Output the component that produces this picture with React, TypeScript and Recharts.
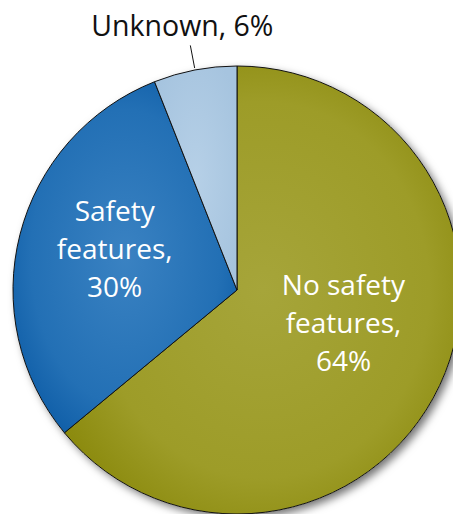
import { Cell, Pie, PieChart } from "recharts";

const CATEGORIES = ["No safety features", "Safety features", "Unknown"];
const SHARES = [64, 30, 6];

const data = CATEGORIES.map((name, i) => ({ name, value: SHARES[i] }));

const FILLS = ["url(#gOlive)", "url(#gBlue)", "url(#gLight)"];
// small nudges so the inside labels sit where the original puts them
const NUDGE = [
  { dx: -5, dy: -19 },
  { dx: -3, dy: -10 },
];

const RADIAN = Math.PI / 180;
const FONT = "'Open Sans', sans-serif";

function renderLabel(props: any) {
  const { cx, cy, midAngle, outerRadius, index, name, value } = props;
  const cos = Math.cos(-midAngle * RADIAN);
  const sin = Math.sin(-midAngle * RADIAN);

  if (index === 2) {
    const x1 = cx + (outerRadius + 2) * cos;
    const y1 = cy + (outerRadius + 2) * sin;
    const x2 = cx + (outerRadius + 25) * cos;
    const y2 = cy + (outerRadius + 25) * sin;
    return (
      <g>
        <line x1={x1} y1={y1} x2={x2} y2={y2} stroke="#111" strokeWidth={1} />
        <text
          x={x2 - 8}
          y={y2 - 9}
          textAnchor="middle"
          fill="#111"
          fontSize={28.5}
          fontFamily={FONT}
        >
          {`${name}, ${value}%`}
        </text>
      </g>
    );
  }

  const words = String(name).split(" ");
  const lines = [words.slice(0, -1).join(" "), `${words[words.length - 1]},`, `${value}%`];
  const x = cx + outerRadius * 0.55 * cos + NUDGE[index].dx;
  const y = cy + outerRadius * 0.55 * sin + NUDGE[index].dy;
  return (
    <text textAnchor="middle" fill="#fff" fontSize={28} fontFamily={FONT}>
      {lines.map((l, i) => (
        <tspan key={i} x={x} y={y - 28 + i * 38}>
          {l}
        </tspan>
      ))}
    </text>
  );
}

export default function App() {
  return (
    <div style={{ position: "absolute", left: 0, top: 0, background: "#fff" }}>
      <PieChart width={453} height={514} margin={{ top: 0, right: 0, bottom: 0, left: 0 }}>
        <defs>
          <radialGradient id="gOlive" cx="50%" cy="50%" r="60%">
            <stop offset="0%" stopColor="#a6a53a" />
            <stop offset="70%" stopColor="#9d9c28" />
            <stop offset="100%" stopColor="#8a890c" />
          </radialGradient>
          <radialGradient id="gBlue" cx="50%" cy="50%" r="60%">
            <stop offset="0%" stopColor="#3a82c2" />
            <stop offset="70%" stopColor="#2370b5" />
            <stop offset="100%" stopColor="#0d5ca6" />
          </radialGradient>
          <radialGradient id="gLight" cx="50%" cy="50%" r="60%">
            <stop offset="0%" stopColor="#b6d0e7" />
            <stop offset="100%" stopColor="#a6c4df" />
          </radialGradient>
          <filter id="shadow" x="-20%" y="-20%" width="140%" height="140%">
            <feDropShadow dx="4" dy="4" stdDeviation="4" floodColor="#000" floodOpacity="0.55" />
          </filter>
        </defs>
        <Pie
          data={data}
          dataKey="value"
          nameKey="name"
          cx={237}
          cy={290}
          outerRadius={224}
          startAngle={90}
          endAngle={-270}
          stroke="none"
          fill="#fff"
          filter="url(#shadow)"
          isAnimationActive={false}
          label={false}
          labelLine={false}
        />
        <Pie
          data={data}
          dataKey="value"
          nameKey="name"
          cx={237}
          cy={290}
          outerRadius={224}
          startAngle={90}
          endAngle={-270}
          stroke="#111"
          strokeWidth={1}
          isAnimationActive={false}
          label={renderLabel}
          labelLine={false}
        >
          {data.map((_, i) => (
            <Cell key={i} fill={FILLS[i]} />
          ))}
        </Pie>
      </PieChart>
    </div>
  );
}
